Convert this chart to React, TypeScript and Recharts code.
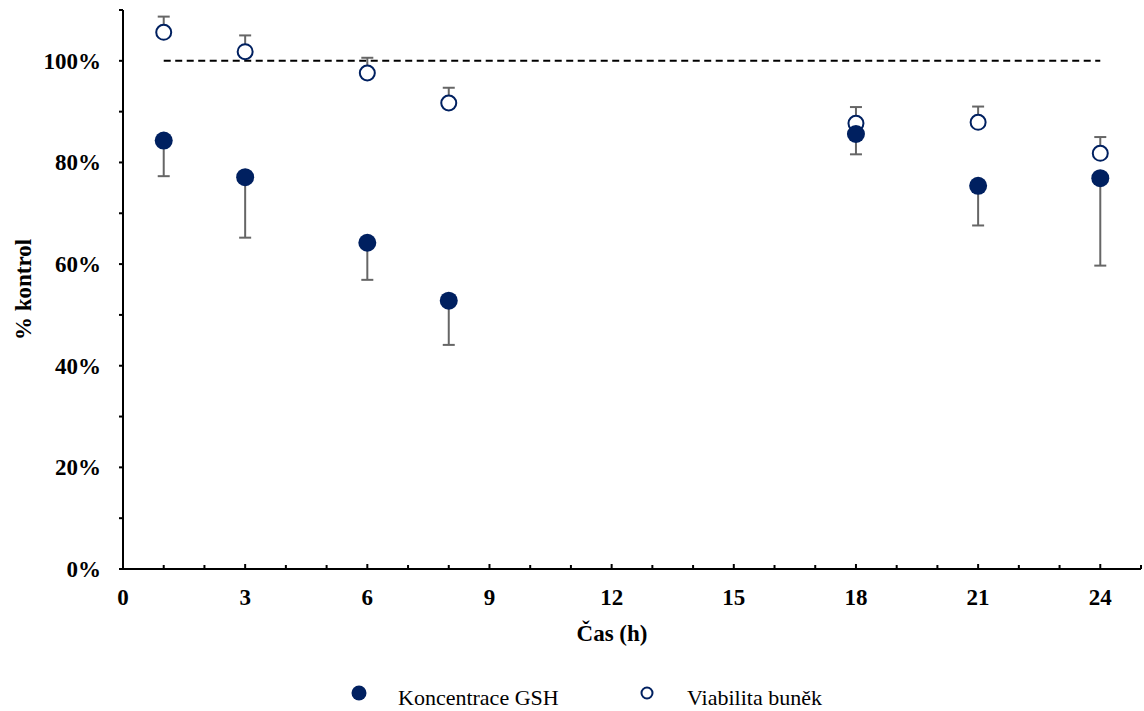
import React from 'react';
import { ScatterChart, Scatter, XAxis, YAxis, ErrorBar, ReferenceLine, Legend } from 'recharts';

// time points (h)
const times = [1, 3, 6, 8, 18, 21, 24];

// GSH concentration, % of control, error bars drawn downward only
const gshValues = [84.3, 77.1, 64.2, 52.8, 85.6, 75.4, 76.9];
const gshErrLow = [7.0, 11.9, 7.3, 8.7, 4.0, 7.8, 17.2];

// cell viability, % of control, error bars drawn upward only
const viabValues = [105.6, 101.8, 97.6, 91.7, 87.7, 87.9, 81.8];
const viabErrHigh = [3.1, 3.2, 3.0, 3.0, 3.2, 3.1, 3.2];

const xTicks = [0, 1, 2, 3, 4, 5, 6, 7, 8, 9, 10, 11, 12, 13, 14, 15, 16, 17, 18, 19, 20, 21, 22, 23, 24, 25];
const yTicks = [0, 10, 20, 30, 40, 50, 60, 70, 80, 90, 100, 110];

const controlLevel = 100;
const controlSpan = [1, 24];

const seriesNames = ['Koncentrace GSH', 'Viabilita buněk'];

const NAVY = '#002060';
const ERR = '#666666';
const FONT = '"Liberation Serif", "Times New Roman", serif';

const gshData = times.map((t, i) => ({ x: t, y: gshValues[i], err: [gshErrLow[i], 0] }));
const viabData = times.map((t, i) => ({ x: t, y: viabValues[i], err: [0, viabErrHigh[i]] }));

const XTick = (props: any) => {
  const { x, y, payload } = props;
  const major = payload.value % 3 === 0 && payload.value < 25;
  return (
    <g>
      <line x1={x} x2={x} y1={y} y2={y - (major ? 5 : 4)} stroke="#000" strokeWidth={2} />
      {major && (
        <text x={x} y={y + 36} textAnchor="middle" fontFamily={FONT} fontWeight="bold" fontSize={23} fill="#000">
          {payload.value}
        </text>
      )}
    </g>
  );
};

const YTick = (props: any) => {
  const { x, y, payload } = props;
  const major = payload.value % 20 === 0;
  return (
    <g>
      <line x1={x - 4} x2={x} y1={y} y2={y} stroke="#000" strokeWidth={2} />
      {major && (
        <text x={x - 22} y={y + 8} textAnchor="end" fontFamily={FONT} fontWeight="bold" fontSize={23} fill="#000">
          {payload.value}%
        </text>
      )}
    </g>
  );
};

const FilledDot = (props: any) => <circle cx={props.cx} cy={props.cy} r={9} fill={NAVY} />;
const OpenDot = (props: any) => (
  <circle cx={props.cx} cy={props.cy} r={7.5} fill="#fff" stroke={NAVY} strokeWidth={2} />
);

const LegendBox = () => (
  <svg width={1144} height={36} style={{ display: 'block' }}>
    <circle cx={359} cy={18} r={7.5} fill={NAVY} />
    <text x={398} y={30} fontFamily={FONT} fontSize={22} fill="#000">{seriesNames[0]}</text>
    <circle cx={647} cy={18} r={5.5} fill="#fff" stroke={NAVY} strokeWidth={2} />
    <text x={687} y={30} fontFamily={FONT} fontSize={22} fill="#000">{seriesNames[1]}</text>
  </svg>
);

const App: React.FC = () => {
  return (
    <div style={{ position: 'absolute', left: 0, top: 0, width: 1144, height: 711, background: '#fff' }}>
      <ScatterChart width={1144} height={711} margin={{ top: 10, right: 3, left: 0, bottom: 0 }}>
        <XAxis
          type="number"
          dataKey="x"
          domain={[0, 25]}
          ticks={xTicks}
          interval={0}
          tickSize={0}
          tickMargin={0}
          height={106}
          axisLine={{ stroke: '#000', strokeWidth: 2 }}
          tickLine={false}
          tick={<XTick />}
          label={(p: any) => {
            const vb = p.viewBox;
            return (
              <text x={vb.x + vb.width / 2 - 20} y={641} textAnchor="middle" fontFamily={FONT} fontWeight="bold" fontSize={23} fill="#000">
                Čas (h)
              </text>
            );
          }}
        />
        <YAxis
          type="number"
          dataKey="y"
          domain={[0, 110]}
          ticks={yTicks}
          interval={0}
          tickSize={0}
          tickMargin={0}
          width={123}
          axisLine={{ stroke: '#000', strokeWidth: 2 }}
          tickLine={false}
          tick={<YTick />}
          label={(p: any) => {
            const vb = p.viewBox;
            const cy = vb.y + vb.height / 2;
            return (
              <text transform={`translate(31, ${cy}) rotate(-90)`} textAnchor="middle" fontFamily={FONT} fontWeight="bold" fontSize={23} fill="#000">
                % kontrol
              </text>
            );
          }}
        />
        <ReferenceLine
          segment={[{ x: controlSpan[0], y: controlLevel }, { x: controlSpan[1], y: controlLevel }]}
          stroke="#000"
          strokeWidth={2}
          strokeDasharray="7 4.5"
        />
        <Scatter name={seriesNames[1]} data={viabData} shape={<OpenDot />} isAnimationActive={false}>
          <ErrorBar dataKey="err" direction="y" width={6} stroke={ERR} strokeWidth={2} isAnimationActive={false} />
        </Scatter>
        <Scatter name={seriesNames[0]} data={gshData} shape={<FilledDot />} isAnimationActive={false}>
          <ErrorBar dataKey="err" direction="y" width={6} stroke={ERR} strokeWidth={2} isAnimationActive={false} />
        </Scatter>
        <Legend verticalAlign="bottom" content={<LegendBox />} wrapperStyle={{ left: 0, width: 1144 }} />
      </ScatterChart>
    </div>
  );
};

export default App;
